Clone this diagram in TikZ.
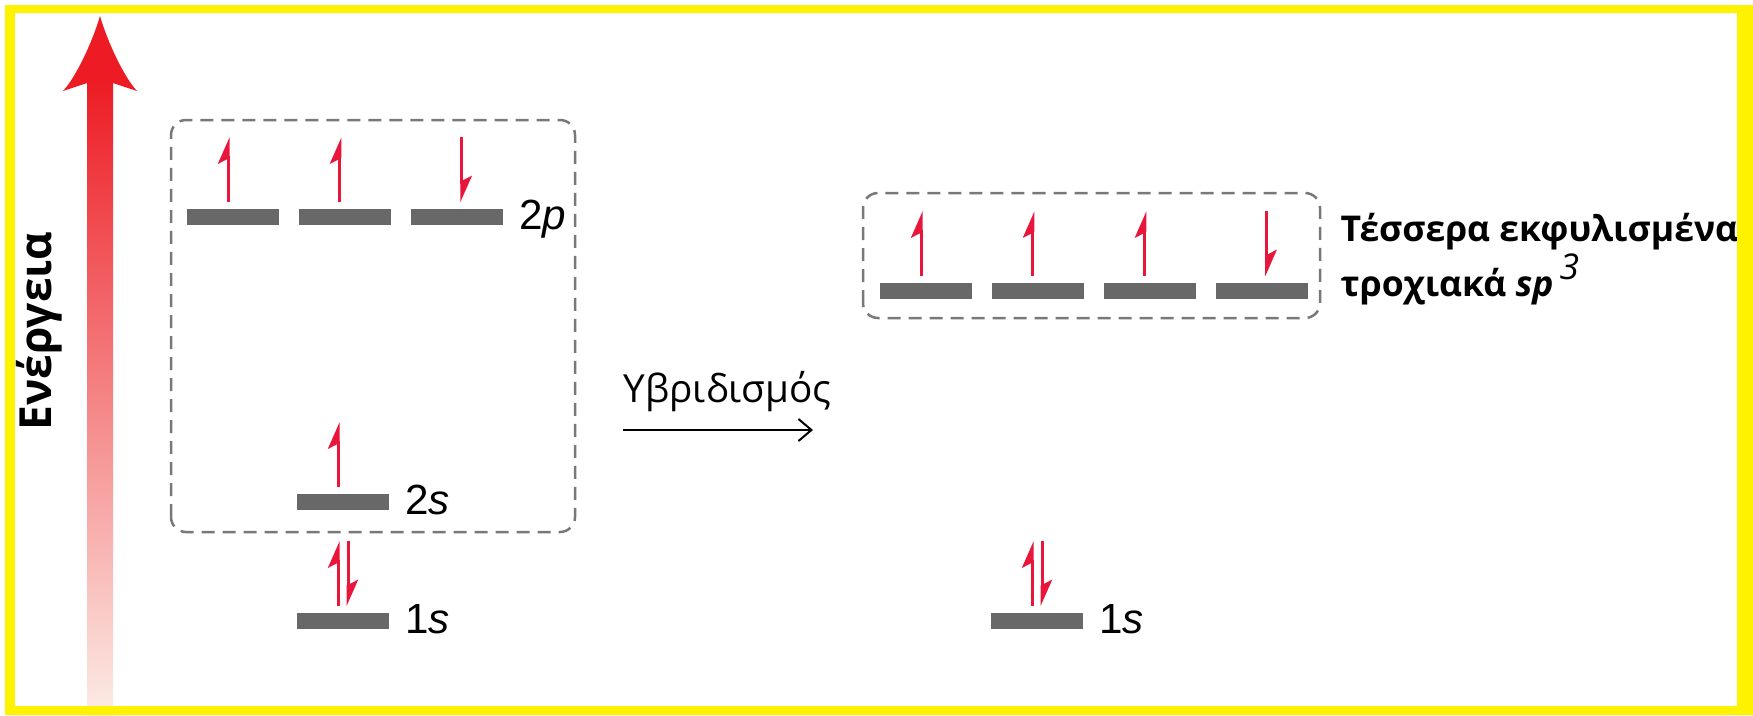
\documentclass[tikz,border=0pt]{standalone}
\usepackage{fontspec}
\setmainfont{Liberation Sans}
\newfontfamily\greekfont{Open Sans}
\usetikzlibrary{arrows.meta}
\usetikzlibrary{positioning}

\definecolor{spinred}{RGB}{233,22,60}
\definecolor{levelgray}{RGB}{104,104,104}
\definecolor{boxgray}{RGB}{120,120,120}
\definecolor{axisred}{RGB}{237,28,36}
\definecolor{axismid}{RGB}{242,125,102}
\definecolor{axispale}{RGB}{252,236,230}

\tikzset{
	level/.style={fill=levelgray, minimum width=0.92cm, minimum height=0.16cm, inner sep=0pt},
	levellabel/.style={font=\fontsize{12}{14}\selectfont, inner sep=0pt, text height=0.72em, text depth=0pt},
	spin/.style={spinred, line width=0.03cm, -{Stealth[left, length=0.23cm, width=0.2cm, inset=0.05cm]}},
	groupbox/.style={draw=boxgray, line width=0.025cm, dash pattern=on 0.13cm off 0.08cm, rounded corners=0.15cm},
}

\begin{document}
\begin{tikzpicture}
	\useasboundingbox (0,0) rectangle (17.53,7.15);

	%energy axis
	\shade[top color=axisred, middle color=axismid, bottom color=axispale] (0.87,0) rectangle (1.13,6.34);
	\fill[axisred] (1.00,6.99) .. controls (0.92,6.72) and (0.76,6.38) .. (0.63,6.24) -- (0.87,6.32) -- (1.13,6.32) -- (1.37,6.24) .. controls (1.24,6.38) and (1.08,6.72) .. (1.00,6.99) -- cycle;
	\node[rotate=90, font=\greekfont\bfseries\fontsize{12.6}{14}\selectfont, inner sep=0pt] (energylab) at (0.39,3.84) {Ενέργεια};

	%carbon levels
	\draw[groupbox] (1.71,1.83) rectangle (5.75,5.95);
	\node[level] (p1) at (2.33,4.98) {};
	\node[level, right=0.185cm of p1] (p2) {};
	\node[level, right=0.185cm of p2] (p3) {};
	\node[level] (s2) at (3.43,2.13) {};
	\node[level] (s1) at (3.43,0.94) {};
	\node[levellabel, right=0.15cm of p3] (p3lab) {2\textit{p}};
	\node[levellabel, right=0.15cm of s2] (s2lab) {2\textit{s}};
	\node[levellabel, right=0.15cm of s1] (s1lab) {1\textit{s}};

	%hybrid levels
	\draw[groupbox] (8.63,3.97) rectangle (13.20,5.22);
	\node[level] (h1) at (9.26,4.24) {};
	\node[level, right=0.185cm of h1] (h2) {};
	\node[level, right=0.185cm of h2] (h3) {};
	\node[level, right=0.185cm of h3] (h4) {};
	\node[level] (s1r) at (10.37,0.94) {};
	\node[levellabel, right=0.15cm of s1r] (s1rlab) {1\textit{s}};
	\node[font=\greekfont\bfseries\fontsize{10.1}{15.6}\selectfont, align=left, anchor=west, inner sep=0pt] (sp3lab) at (13.40,4.56) {Τέσσερα εκφυλισμένα\\τροχιακά \textit{sp}\,\raisebox{0.17cm}{\mdseries\itshape 3}};

	%spins
	\draw[spin] ([xshift=-0.05cm, yshift=0.06cm]p1.north) -- ++(0,0.65);
	\draw[spin] ([xshift=-0.05cm, yshift=0.06cm]p2.north) -- ++(0,0.65);
	\draw[spin] ([xshift=0.05cm, yshift=0.71cm]p3.north) -- ++(0,-0.65);
	\draw[spin] ([xshift=-0.05cm, yshift=0.06cm]s2.north) -- ++(0,0.65);
	\draw[spin] ([xshift=-0.05cm, yshift=0.06cm]s1.north) -- ++(0,0.65);
	\draw[spin] ([xshift=0.05cm, yshift=0.71cm]s1.north) -- ++(0,-0.65);
	\draw[spin] ([xshift=-0.05cm, yshift=0.06cm]h1.north) -- ++(0,0.65);
	\draw[spin] ([xshift=-0.05cm, yshift=0.06cm]h2.north) -- ++(0,0.65);
	\draw[spin] ([xshift=-0.05cm, yshift=0.06cm]h3.north) -- ++(0,0.65);
	\draw[spin] ([xshift=0.05cm, yshift=0.71cm]h4.north) -- ++(0,-0.65);
	\draw[spin] ([xshift=-0.05cm, yshift=0.06cm]s1r.north) -- ++(0,0.65);
	\draw[spin] ([xshift=0.05cm, yshift=0.71cm]s1r.north) -- ++(0,-0.65);

	%hybridisation
	\coordinate (hybstart) at (6.23,2.85);
	\coordinate (hybend) at (8.13,2.85);
	\draw[-{Straight Barb[length=0.13cm, width=0.22cm]}, line width=0.02cm] (hybstart) -- (hybend);
	\node[font=\greekfont\fontsize{11}{13}\selectfont, anchor=base west, inner sep=0pt] (hyblab) at ([yshift=0.28cm]hybstart) {Υβριδισμός};

	%frame
	\fill[yellow, even odd rule] (0.05,0) rectangle (17.53,7.10) (0.15,0.09) rectangle (17.37,7.02);

\end{tikzpicture}
\end{document}
